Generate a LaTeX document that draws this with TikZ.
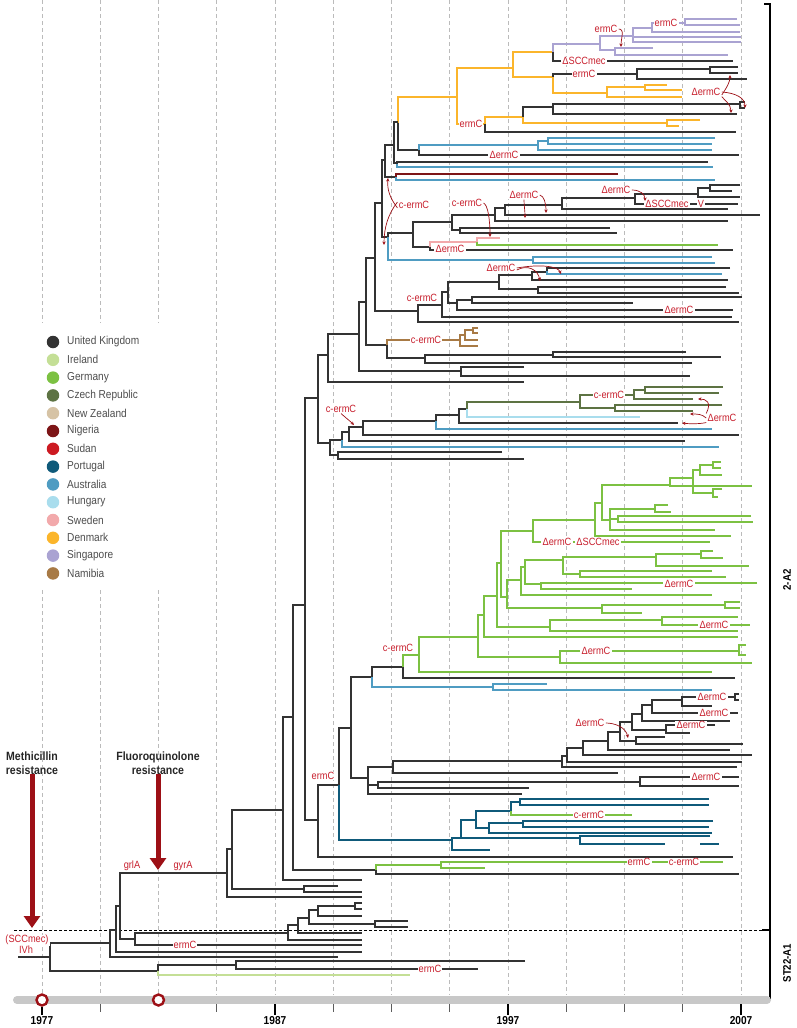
\documentclass[tikz,border=0pt]{standalone}
\usepackage{fontspec}
\setmainfont{Liberation Sans}[FakeStretch=0.88]
\usepackage{tikz}
\usetikzlibrary{positioning,arrows.meta}
% elbow: node at x=#2, top child (y=#3) runs to #5, bottom child (y=#4) runs to #6
\newcommand{\clade}[6]{\draw[#1] (#5,#3) -- (#2,#3) -- (#2,#4) -- (#6,#4);}
% same, with the upper and lower halves in two colours
\newcommand{\splitclade}[8]{\draw[#1] (#7,#4) -- (#3,#4) -- (#3,#5); \draw[#2] (#3,#5) -- (#3,#6) -- (#8,#6);}
\newcommand{\twig}[4]{\draw[#1] (#2,#3) -- (#4,#3);}

\begin{document}
\begin{tikzpicture}[x=1pt, y=-1pt, line cap=butt,
  tree/.style={line width=1.6pt, line join=miter},
  uk/.style={tree, draw=cUK},   irl/.style={tree, draw=cIE},  ger/.style={tree, draw=cDE},
  cze/.style={tree, draw=cCZ},  nga/.style={tree, draw=cNG},  prt/.style={tree, draw=cPT},
  aus/.style={tree, draw=cAU},  hun/.style={tree, draw=cHU},  swe/.style={tree, draw=cSE},
  dnk/.style={tree, draw=cDK},  sgp/.style={tree, draw=cSG},  nam/.style={tree, draw=cNA},
  grid/.style={draw=gridgray, line width=0.6pt, dash pattern=on 4pt off 3pt},
  lab/.style={text=labred, fill=white, inner xsep=1.2pt, inner ysep=0.6pt, font=\fontsize{10.5}{10.5}\selectfont},
  annarr/.style={draw=arrowred, line width=0.7pt, -{Stealth[length=3.5pt, width=3.2pt]}},
  bigarr/.style={draw=arrowred, line width=5pt, -{Triangle[length=12pt, width=16pt]}},
  reslab/.style={align=center, font=\bfseries\fontsize{12}{13.5}\selectfont, inner sep=0pt, text=black!85},
  legdot/.style={circle, minimum size=12.5pt, inner sep=0pt},
  legtxt/.style={anchor=west, text=legtext, font=\fontsize{11.5}{12}\selectfont, inner sep=0pt},
  ring/.style={circle, draw=arrowred, fill=white, line width=2.4pt, minimum size=11pt, inner sep=0pt},
  year/.style={font=\bfseries\fontsize{11.5}{11.5}\selectfont, inner sep=0pt},
  clab/.style={rotate=90, font=\bfseries\fontsize{11}{11}\selectfont, inner sep=0pt},
]
\definecolor{cUK}{HTML}{333333}
\definecolor{cIE}{HTML}{C4DF96}
\definecolor{cDE}{HTML}{7CC142}
\definecolor{cCZ}{HTML}{5D7343}
\definecolor{cNZ}{HTML}{D6C3A5}
\definecolor{cNG}{HTML}{7D1517}
\definecolor{cSD}{HTML}{CC1A22}
\definecolor{cPT}{HTML}{0F5A7A}
\definecolor{cAU}{HTML}{4F9CC2}
\definecolor{cHU}{HTML}{A9DDED}
\definecolor{cSE}{HTML}{F2A9AB}
\definecolor{cDK}{HTML}{FBB52B}
\definecolor{cSG}{HTML}{AAA3D2}
\definecolor{cNA}{HTML}{A87A45}
\definecolor{labred}{HTML}{C8202E}
\definecolor{arrowred}{HTML}{9D1016}
\definecolor{gridgray}{HTML}{BBBBBB}
\definecolor{bargray}{HTML}{C8C8C8}
\definecolor{legtext}{HTML}{4D4D4D}
\useasboundingbox (0,0) rectangle (796,1028);

% ---------------- time grid (every 2.5 years) ----------------
\foreach \gx in {42,100.25,158.5} {
  \draw[grid] (\gx,0) -- (\gx,323);
  \draw[grid] (\gx,590) -- (\gx,995);
}
\foreach \k in {3,...,12} \draw[grid] ({42+58.25*\k},0) -- ({42+58.25*\k},995);
% ST22-A1 / 2-A2 split
\draw[line width=0.9pt, dash pattern=on 3pt off 2pt] (14,930) -- (765,930);

% ---------------- Denmark / Singapore ----------------
\splitclade{dnk}{uk}{398}{97}{123}{150}{457}{419}
\clade{dnk}{457}{68}{124}{513}{485}
\clade{dnk}{513}{52}{77}{553}{553}
\splitclade{sgp}{uk}{553}{44}{52}{61}{600}{733}
\clade{sgp}{600}{36}{50}{633}{615}
\clade{sgp}{615}{48}{55}{653}{728}
\clade{sgp}{633}{28}{42}{652}{741}
\twig{sgp}{633}{37}{741}
\clade{sgp}{652}{23}{32}{685}{740}
\clade{sgp}{685}{19}{25}{737}{740}
\splitclade{uk}{dnk}{553}{74}{77}{93}{637}{607}
\clade{uk}{637}{69}{79}{710}{747}
\clade{uk}{710}{67}{73}{738}{738}
\clade{dnk}{607}{87}{97}{645}{682}
\clade{dnk}{645}{85}{90}{667}{682}
\splitclade{dnk}{uk}{485}{117}{124}{132}{523}{736}
\splitclade{uk}{dnk}{523}{107}{117}{123}{553}{667}
\clade{uk}{553}{104}{114}{740}{737}
\clade{uk}{740}{102}{108}{745}{745}
\clade{dnk}{667}{120}{126}{700}{679}
% ---------------- Australia, Nigeria ----------------
\splitclade{aus}{uk}{419}{145}{150}{155}{538}{739}
\clade{aus}{538}{141}{150}{548}{712}
\clade{aus}{548}{138}{144}{715}{712}
\clade{uk}{394}{122}{163}{398}{397}
\splitclade{uk}{aus}{397}{162}{164}{167}{708}{713}
\clade{uk}{385}{145}{177}{394}{396}
\splitclade{nga}{aus}{396}{174}{177}{180}{618}{715}
\clade{uk}{382}{160}{237}{385}{388}
\splitclade{uk}{aus}{388}{233}{237}{260}{413}{533}
\clade{aus}{533}{257}{263}{712}{715}
\clade{uk}{413}{222}{247}{452}{430}
\splitclade{swe}{uk}{430}{242}{247}{250}{477}{733}
\splitclade{swe}{ger}{477}{238}{242}{245}{500}{718}
\clade{uk}{452}{215}{230}{495}{460}
\clade{uk}{460}{228}{233}{610}{617}
\clade{uk}{495}{208}{221}{505}{728}
\clade{uk}{505}{205}{215}{562}{760}
\clade{uk}{562}{198}{209}{635}{728}
\clade{uk}{635}{194}{204}{698}{738}
\clade{uk}{698}{188}{197}{710}{740}
\clade{uk}{710}{185}{191}{740}{732}
% ---------------- c-ermC black clade ----------------
\clade{uk}{375}{203}{311}{382}{418}
\clade{uk}{418}{305}{322}{442}{739}
\clade{uk}{442}{292}{317}{448}{732}
\clade{uk}{448}{282}{303}{499}{457}
\clade{uk}{457}{300}{310}{472}{733}
\clade{uk}{472}{297}{303}{742}{633}
\clade{uk}{499}{275}{289}{532}{538}
\clade{uk}{532}{272}{280}{547}{728}
\splitclade{uk}{aus}{547}{268}{271}{274}{730}{722}
\clade{uk}{538}{287}{293}{726}{739}
% ---------------- Namibia ----------------
\clade{uk}{366}{258}{345}{375}{387}
\splitclade{nam}{uk}{387}{340}{345}{358}{460}{425}
\clade{nam}{460}{335}{346}{465}{478}
\clade{nam}{465}{330}{340}{473}{478}
\clade{nam}{473}{328}{333}{478}{478}
\clade{uk}{425}{355}{363}{553}{692}
\clade{uk}{553}{352}{357}{686}{721}
\clade{uk}{359}{302}{371}{366}{461}
\clade{uk}{461}{367}{376}{524}{690}
\clade{uk}{328}{334}{382}{359}{524}
\clade{uk}{318}{355}{443}{328}{330}
% ---------------- Hungary, Czech Republic ----------------
\clade{uk}{330}{440}{455}{342}{338}
\clade{uk}{338}{452}{459}{502}{524}
\splitclade{uk}{aus}{342}{432}{440}{447}{349}{719}
\clade{uk}{349}{427}{441}{363}{685}
\clade{uk}{363}{421}{435}{436}{739}
\splitclade{uk}{aus}{436}{415}{421}{429}{459}{712}
\clade{uk}{459}{409}{423}{467}{678}
\splitclade{cze}{hun}{467}{402}{409}{417}{580}{640}
\clade{cze}{580}{395}{408}{634}{615}
\clade{cze}{634}{390}{399}{645}{693}
\clade{cze}{645}{387}{393}{723}{719}
\clade{cze}{615}{405}{411}{722}{693}
% ---------------- backbone ----------------
\clade{uk}{305}{398}{820}{318}{318}
\clade{uk}{293}{605}{870}{305}{376}
\clade{uk}{283}{717}{880}{293}{362}
\clade{uk}{232}{810}{889}{283}{304}
\clade{uk}{304}{886}{892}{338}{362}
\clade{uk}{227}{849}{897}{232}{362}
% ---------------- ermC clade ----------------
\clade{uk}{318}{785}{857}{339}{733}
\splitclade{uk}{prt}{339}{728}{785}{840}{351}{452}
\clade{uk}{351}{677}{778}{372}{368}
\splitclade{uk}{aus}{372}{667}{677}{687}{403}{493}
\clade{aus}{493}{684}{690}{547}{712}
\splitclade{ger}{uk}{403}{655}{667}{678}{419}{735}
% ---------------- Germany ----------------
\clade{ger}{419}{637}{672}{478}{712}
\clade{ger}{478}{615}{657}{484}{560}
\clade{ger}{560}{651}{663}{739}{752}
\clade{ger}{739}{645}{655}{746}{746}
\clade{ger}{484}{596}{637}{497}{738}
\clade{ger}{497}{563}{627}{501}{550}
\clade{ger}{550}{620}{631}{662}{738}
\clade{ger}{662}{617}{625}{738}{750}
\clade{ger}{501}{531}{597}{533}{507}
\clade{ger}{507}{580}{608}{521}{602}
\clade{ger}{521}{567}{595}{525}{712}
\clade{ger}{525}{560}{584}{563}{541}
\clade{ger}{563}{557}{574}{656}{580}
\clade{ger}{656}{554}{566}{701}{749}
\clade{ger}{701}{551}{558}{713}{723}
\clade{ger}{580}{571}{577}{712}{726}
\clade{ger}{541}{583}{589}{757}{632}
\clade{ger}{602}{605}{613}{725}{642}
\clade{ger}{725}{602}{608}{740}{740}
\clade{ger}{533}{520}{542}{595}{710}
\clade{ger}{595}{503}{536}{602}{731}
\clade{ger}{602}{485}{520}{670}{610}
\clade{ger}{610}{509}{530}{655}{715}
\twig{ger}{610}{519}{618}
\clade{ger}{655}{505}{512}{668}{671}
\clade{ger}{618}{516}{522}{751}{753}
\clade{ger}{670}{478}{486}{693}{752}
\clade{ger}{693}{470}{493}{700}{713}
\clade{ger}{700}{465}{475}{713}{722}
\clade{ger}{713}{462}{468}{721}{721}
\clade{ger}{713}{489}{497}{722}{718}
% ---------------- UK subclade with deletions ----------------
\clade{uk}{368}{767}{794}{393}{522}
\twig{uk}{368}{785}{378}
\clade{uk}{378}{782}{788}{640}{529}
\clade{uk}{640}{777}{786}{739}{739}
\clade{uk}{393}{761}{773}{562}{618}
\clade{uk}{562}{756}{767}{567}{737}
\clade{uk}{567}{748}{762}{583}{742}
\clade{uk}{583}{741}{755}{608}{752}
\clade{uk}{608}{732}{750}{620}{730}
\clade{uk}{620}{722}{741}{632}{636}
\clade{uk}{636}{737}{744}{665}{743}
\clade{uk}{632}{714}{730}{642}{666}
\clade{uk}{666}{725}{733}{715}{690}
\clade{uk}{642}{705}{721}{652}{730}
\clade{uk}{652}{700}{713}{682}{738}
\clade{uk}{682}{697}{706}{735}{712}
\clade{uk}{735}{694}{700}{739}{739}
% ---------------- Portugal ----------------
\clade{prt}{452}{838}{850}{461}{490}
\clade{prt}{461}{820}{838}{476}{580}
\clade{prt}{580}{836}{844}{710}{665}
\twig{prt}{700}{844}{719}
\clade{prt}{476}{811}{828}{511}{489}
\splitclade{prt}{ger}{511}{802}{811}{815}{520}{632}
\clade{prt}{520}{799}{805}{709}{709}
\clade{prt}{489}{823}{833}{523}{712}
\clade{prt}{523}{821}{827}{713}{709}
\splitclade{ger}{uk}{376}{865}{870}{874}{441}{739}
\clade{ger}{441}{862}{868}{723}{485}
% ---------------- ST22-A1 and root ----------------
\clade{uk}{120}{873}{939}{227}{135}
\clade{uk}{135}{933}{945}{288}{362}
\clade{uk}{288}{925}{940}{298}{362}
\clade{uk}{298}{918}{933}{309}{362}
\clade{uk}{309}{910}{924}{318}{375}
\clade{uk}{375}{921}{927}{408}{408}
\clade{uk}{318}{906}{916}{355}{362}
\clade{uk}{355}{903}{909}{362}{362}
\clade{uk}{116}{906}{952}{120}{362}
\clade{uk}{110}{930}{957}{116}{338}
\clade{uk}{50}{943}{971}{110}{158}
\twig{uk}{18}{957}{50}
\splitclade{uk}{irl}{158}{965}{971}{975}{236}{410}
\clade{uk}{236}{961}{969}{525}{478}

% ---------------- labels on branches ----------------
\node[lab] (sg1) at (666,23) {ermC};
\node[lab] (sg2) at (584,61) {ΔSCCmec};
\node[lab] (dk1) at (584,74) {ermC};
\node[lab] (dk2) at (471,124) {ermC};
\node[lab] (au1) at (504,155) {ΔermC};
\node[lab] (uk1) at (667,204) {ΔSCCmec};
\node[lab] (uk2) at (701,204) {V};
\node[lab] (se1) at (450,249) {ΔermC};
\node[lab] (uk3) at (679,310) {ΔermC};
\node[lab] (na1) at (426,340) {c-ermC};
\node[lab] (cz1) at (609,395) {c-ermC};
\node[lab] (de1) at (557,542) {ΔermC};
\node[lab] (de2) at (598,542) {ΔSCCmec};
\node[lab] (de3) at (679,584) {ΔermC};
\node[lab] (de4) at (714,625) {ΔermC};
\node[lab] (de5) at (596,651) {ΔermC};
\node[lab] (uk4) at (712,697) {ΔermC};
\node[lab] (uk5) at (714,713) {ΔermC};
\node[lab] (uk6) at (691,725) {ΔermC};
\node[lab] (uk7) at (706,777) {ΔermC};
\node[lab] (pt1) at (589,815) {c-ermC};
\node[lab] (de6) at (639,862) {ermC};
\node[lab] (de7) at (684,862) {c-ermC};
\node[lab] (st1) at (185,945) {ermC};
\node[lab] (st2) at (430,969) {ermC};
% ---------------- free labels with pointers ----------------
\node[lab] (sg3) at (606,29) {ermC};
\node[lab] (dk3) at (706,92) {ΔermC};
\node[lab] (au2) at (414,205) {c-ermC};
\node[lab] (se2) at (467,203) {c-ermC};
\node[lab] (uk8) at (524,195) {ΔermC};
\node[lab] (uk9) at (616,190) {ΔermC};
\node[lab] (uk10) at (501,268) {ΔermC};
\node[lab] (uk11) at (422,298) {c-ermC};
\node[lab] (cz2) at (722,418) {ΔermC};
\node[lab] (hu1) at (341,409) {c-ermC};
\node[lab] (de8) at (398,648) {c-ermC};
\node[lab] (uk12) at (590,723) {ΔermC};
\node[lab] (pt2) at (323,776) {ermC};
\node[lab] (gr1) at (132,866) {grlA};
\node[lab] (gr2) at (183,866) {gyrA};
\node[lab] (scc) at (27,940) {(SCCmec)};
\node[lab, fill=none] (ivh) at (26,950) {IVh};
\draw[annarr] (sg3.east) .. controls (625,29) and (621,38) .. (621,47);
\draw[annarr] ([yshift=-3pt]dk3.east) .. controls (727,87) and (730,82) .. (730,75);
\draw[annarr] (dk3.east) .. controls (736,93) and (745,98) .. (745,108);
\draw[annarr] (dk3.south east) .. controls (724,100) and (731,104) .. (731,113);
\draw[annarr] ([yshift=-3pt]au2.west) .. controls (390,198) and (387,190) .. (388,178);
\draw[annarr] ([yshift=3pt]au2.west) .. controls (388,214) and (384,228) .. (384,245);
\draw[annarr] (se2.east) .. controls (488,205) and (490,220) .. (490,237);
\draw[annarr] (uk8.east) .. controls (544,196) and (546,203) .. (546,213);
\draw[annarr] (uk8.south) .. controls (524,206) and (525,210) .. (525,218);
\draw[annarr] (uk9.east) .. controls (640,190) and (645,194) .. (645,201);
\draw[annarr] ([yshift=-2pt]uk10.east) .. controls (528,264) and (538,270) .. (540,281);
\draw[annarr] (uk10.east) .. controls (540,264) and (558,266) .. (561,274);
\draw[annarr] (cz2.north west) .. controls (712,402) and (706,399) .. (698,399);
\draw[annarr] (cz2.west) .. controls (702,414) and (697,414) .. (690,414);
\draw[annarr] (cz2.south west) .. controls (700,424) and (690,424) .. (682,423);
\draw[annarr] (hu1.south) .. controls (346,418) and (350,421) .. (354,425);
\draw[annarr] (uk12.east) .. controls (616,723) and (626,728) .. (628,738);

% ---------------- resistance events ----------------
\node[reslab] (lmeth) at (32,763) {Methicillin\\resistance};
\node[reslab] (lfluo) at (158,763) {Fluoroquinolone\\resistance};
\coordinate (tmeth) at (32,928);
\coordinate (tfluo) at (158,870);
\draw[bigarr] (lmeth.south) -- (tmeth);
\draw[bigarr] (lfluo.south) -- (tfluo);

% ---------------- clade bracket ----------------
\draw[line width=2pt, line join=miter] (764,4) -- (770,4) -- (770,998) -- (764,998);
\draw[line width=2pt] (762,930) -- (770,930);
\node[clab] (c2a2) at (787,580) {2-A2};
\node[clab] (cst) at (787,963) {ST22-A1};

% ---------------- legend ----------------
\foreach \c/\t [count=\i from 0] in {cUK/United Kingdom, cIE/Ireland, cDE/Germany,
    cCZ/Czech Republic, cNZ/New Zealand, cNG/Nigeria, cSD/Sudan, cPT/Portugal,
    cAU/Australia, cHU/Hungary, cSE/Sweden, cDK/Denmark, cSG/Singapore, cNA/Namibia} {
  \node[legdot, fill=\c] (dot\i) at (53,{342+17.8*\i}) {};
  \node[legtxt] (leg\i) at (67,{342+17.8*\i}) {\t};
}

% ---------------- time axis ----------------
\draw[bargray, line width=8pt, line cap=round] (17,1000) -- (767,1000);
\foreach \k in {1,3,5,6,7,9,10,11}
  \draw[cUK!80, line width=1pt] ({42+58.25*\k},1004) -- ({42+58.25*\k},1012);
\foreach \k in {4,8,12}
  \draw[black, line width=1.6pt] ({42+58.25*\k},1004) -- ({42+58.25*\k},1015);
\node[ring] (r77) at (42,1000) {};
\node[ring] (r82) at (158.5,1000) {};
\draw[black, line width=1.6pt] (r77.south) -- (42,1015);
\node[year] (y77) at (42,1021) {1977};
\node[year] (y87) at (275,1021) {1987};
\node[year] (y97) at (508,1021) {1997};
\node[year] (y07) at (741,1021) {2007};
\end{tikzpicture}
\end{document}
